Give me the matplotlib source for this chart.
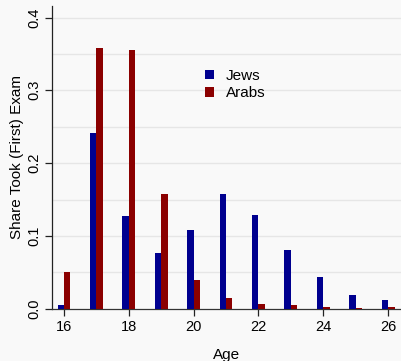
import numpy as np
import matplotlib
matplotlib.use("Agg")
import matplotlib.pyplot as plt

plt.rcParams['font.family'] = ['Liberation Sans', 'DejaVu Sans']

ages = [16, 17, 18, 19, 20, 21, 22, 23, 24, 25, 26]
jews = [0.005, 0.242, 0.128, 0.076, 0.108, 0.157, 0.129, 0.080, 0.043, 0.019, 0.012]
arabs = [0.050, 0.358, 0.355, 0.158, 0.040, 0.015, 0.007, 0.005, 0.003, 0.001, 0.002]
yticks = [0.0, 0.1, 0.2, 0.3, 0.4]
xticks = [16, 18, 20, 22, 24, 26]

bg = '#f9f9f9'
fig = plt.figure(figsize=(4.01, 3.61), dpi=100, facecolor=bg)
ax = fig.add_axes([52 / 401, 1 - 308.7 / 361, 1 - 52 / 401, (308.7 - 6) / 361])
ax.set_facecolor(bg)

x = np.array(ages)
w = 0.2
ax.bar(x - w / 2, jews, width=w, color='#00008f', label='Jews', zorder=3)
ax.bar(x + w / 2, arabs, width=w, color='#8b0000', label='Arabs', zorder=3)

ax.set_xlim(15.63, 26.4)
ax.set_ylim(0, 0.4158)
ax.set_yticks(yticks)
ax.set_yticklabels([f'{v:.1f}' for v in yticks], rotation=90, va='center', fontsize=10.5)
ax.set_xticks(xticks)
ax.set_xticklabels([str(v) for v in xticks], fontsize=10.5)

for g in np.arange(0.05, 0.401, 0.05):
    ax.axhline(g, color='#e6e6e6', lw=1.0, zorder=1)

ax.spines['top'].set_visible(False)
ax.spines['right'].set_visible(False)
ax.spines['left'].set_color('#222222')
ax.spines['bottom'].set_color('#333333')
ax.spines['left'].set_linewidth(0.9)
ax.spines['bottom'].set_linewidth(0.9)
ax.tick_params(axis='both', length=5, width=0.9, color='#222222', pad=3)

ax.set_xlabel('Age', fontsize=11, labelpad=10)
ax.set_ylabel('Share Took (First) Exam', fontsize=11, labelpad=2)

ax.legend(loc='upper left', bbox_to_anchor=(0.416, 0.817), frameon=False,
          fontsize=11, handlelength=0.6, handleheight=0.6, handletextpad=0.8,
          labelspacing=0.2, borderpad=0)

fig.savefig('out.png', dpi=100, facecolor=bg)
